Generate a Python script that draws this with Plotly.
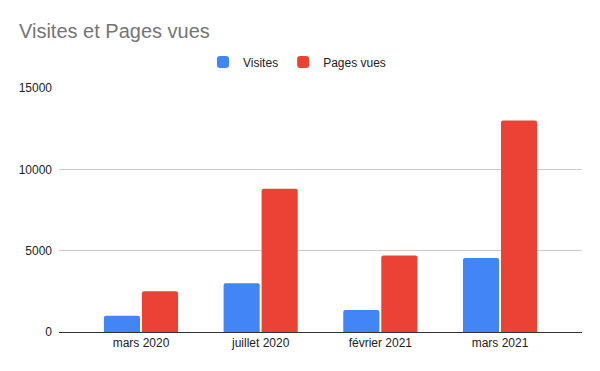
import plotly.graph_objects as go

categories = ["mars 2020", "juillet 2020", "février 2021", "mars 2021"]
visites = [1000, 3000, 1350, 4550]
pages_vues = [2500, 8800, 4700, 13000]
y_ticks = [0, 5000, 10000, 15000]

FONT = "Liberation Sans, Arial, sans-serif"
W, H = 592, 363  # page body has an 8px margin; keep the figure inside the 600x371 window

fig = go.Figure()
fig.add_trace(go.Bar(x=categories, y=visites, name="Visites",
                     marker=dict(color="#4285F4", line=dict(width=0), cornerradius=2)))
fig.add_trace(go.Bar(x=categories, y=pages_vues, name="Pages vues",
                     marker=dict(color="#EA4335", line=dict(width=0), cornerradius=2)))

fig.update_layout(
    width=W, height=H,
    margin=dict(l=51, r=18, t=80, b=39, pad=0, autoexpand=False),
    paper_bgcolor="white", plot_bgcolor="white",
    font=dict(family=FONT, size=12, color="#222222"),
    barmode="group", bargap=0.365, bargroupgap=0.05,
    title=dict(text="Visites et Pages vues", x=11/W, xanchor="left", xref="container",
               y=1 - 23/H, yanchor="middle", yref="container",
               font=dict(family=FONT, size=20, color="#757575")),
    legend=dict(orientation="h", x=289/W, xanchor="center", xref="container",
                y=1 - 54/H, yanchor="middle", yref="container",
                font=dict(family=FONT, size=12, color="#222222"),
                itemwidth=30, traceorder="normal"),
    showlegend=True,
)
fig.update_xaxes(range=[-0.685, 3.685], showgrid=False, showline=False, ticks="",
                 ticklabelstandoff=2,
                 tickfont=dict(size=12, color="#222222"))
fig.update_yaxes(range=[0, 15000], tickvals=y_ticks, ticktext=[str(v) for v in y_ticks],
                 showgrid=True, gridcolor="#cccccc", gridwidth=1,
                 zeroline=True, zerolinecolor="#333333", zerolinewidth=1.3,
                 showline=False, ticks="", ticklabelstandoff=6,
                 tickfont=dict(size=12, color="#222222"))

fig.write_html("out.html")
